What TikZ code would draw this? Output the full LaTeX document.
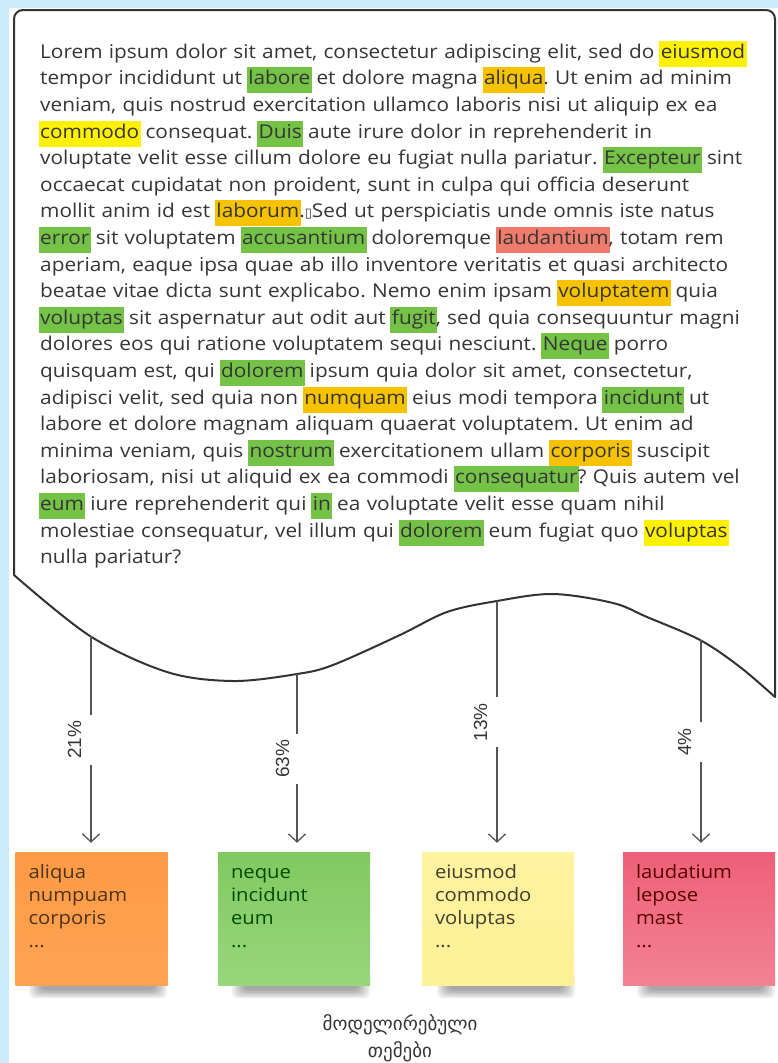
\documentclass[tikz,border=0pt]{standalone}
\usepackage{fontspec}
\setmainfont{Open Sans}[FakeStretch=1.095]
\newfontfamily\pctfont{Liberation Sans}
\newfontfamily\geofont{DejaVu Sans}
\newfontfamily\symfont{DejaVu Sans}
\usetikzlibrary{arrows.meta,calc}
\frenchspacing

\definecolor{bodytext}{HTML}{363636}
\definecolor{hlY}{HTML}{FFF100}
\definecolor{hlO}{HTML}{F7C200}
\definecolor{hlG}{HTML}{74C246}
\definecolor{hlR}{HTML}{F07B6B}
\definecolor{frameblue}{HTML}{CBEBFB}
\definecolor{bubbleline}{HTML}{333333}
\definecolor{connline}{HTML}{555555}

% highlighted word: full-line-height marker behind the word
\newcommand\hlword[2]{\hspace{-1.5pt}{\setlength{\fboxsep}{0pt}\colorbox{#1}{\hspace{1.5pt}\rule[-8.5pt]{0pt}{26pt}#2\hspace{1.5pt}}}\hspace{-1.5pt}}
% sticky-note text block, top aligned
\newcommand\notetext[2]{\parbox[c][133pt][t]{126pt}{\raggedright\color{#1}#2}}

\tikzset{
  bubble/.style={draw=bubbleline, line width=2pt, fill=white, line join=round},
  conn/.style={draw=connline, line width=1.3pt, shorten >=9pt,
    -{Straight Barb[length=8pt,width=17pt]}},
  pct/.style={rotate=90, fill=white, text=bodytext,
    font=\pctfont\fontsize{19}{22}\selectfont,
    inner xsep=6pt, inner ysep=0pt, text height=13.5pt, text depth=16pt, anchor=base},
  notebox/.style={minimum width=152pt, minimum height=133pt, inner sep=0pt,
    font=\fontsize{18.5}{23}\selectfont},
  bodytxt/.style={anchor=north west, inner sep=0pt, text width=740pt, align=left,
    text=bodytext, font=\fontsize{19}{26.6}\selectfont},
}

\begin{document}
\begin{tikzpicture}[x=1pt,y=-1pt]
\useasboundingbox (0,0) rectangle (778,1063);

% light blue frame strips
\fill[frameblue] (0,0) rectangle (9,1063);
\fill[frameblue] (0,0) rectangle (778,8);

% speech bubble with wavy lower edge
\path[bubble] (14,575) -- (14,19) .. controls (14,14) and (18,10) .. (23,10)
  -- (766,10) .. controls (771,10) and (775,14) .. (775,19) -- (775,697)
  -- plot[smooth, tension=0.55] coordinates {(775,697) (740,667) (700,640) (647,617)
     (613,603) (553,594) (497,601) (447,612) (400,635) (333,665) (297,674)
     (233,681) (167,672) (90,636) (14,575)} -- cycle;

% body text
\node[bodytxt] (body) at (40,40.5) {%
Lorem ipsum dolor sit amet, consectetur adipiscing elit, sed do \hlword{hlY}{eiusmod}\\
tempor incididunt ut \hlword{hlG}{labore} et dolore magna \hlword{hlO}{aliqua}. Ut enim ad minim\\
veniam, quis nostrud exercitation ullamco laboris nisi ut aliquip ex ea\\
\hlword{hlY}{commodo} consequat. \hlword{hlG}{Duis} aute irure dolor in reprehenderit in\\
voluptate velit esse cillum dolore eu fugiat nulla pariatur. \hlword{hlG}{Excepteur} sint\\
occaecat cupidatat non proident, sunt in culpa qui officia deserunt\\
mollit anim id est \hlword{hlO}{laborum}.{\symfont\fontsize{13}{13}\selectfont\char"25AF}Sed ut perspiciatis unde omnis iste natus\\
\hlword{hlG}{error} sit voluptatem \hlword{hlG}{accusantium} doloremque \hlword{hlR}{laudantium}, totam rem\\
aperiam, eaque ipsa quae ab illo inventore veritatis et quasi architecto\\
beatae vitae dicta sunt explicabo. Nemo enim ipsam \hlword{hlO}{voluptatem} quia\\
\hlword{hlG}{voluptas} sit aspernatur aut odit aut \hlword{hlG}{fugit}, sed quia consequuntur magni\\
dolores eos qui ratione voluptatem sequi nesciunt. \hlword{hlG}{Neque} porro\\
quisquam est, qui \hlword{hlG}{dolorem} ipsum quia dolor sit amet, consectetur,\\
adipisci velit, sed quia non \hlword{hlO}{numquam} eius modi tempora \hlword{hlG}{incidunt} ut\\
labore et dolore magnam aliquam quaerat voluptatem. Ut enim ad\\
minima veniam, quis \hlword{hlG}{nostrum} exercitationem ullam \hlword{hlO}{corporis} suscipit\\
laboriosam, nisi ut aliquid ex ea commodi \hlword{hlG}{consequatur}? Quis autem vel\\
\hlword{hlG}{eum} iure reprehenderit qui \hlword{hlG}{in} ea voluptate velit esse quam nihil\\
molestiae consequatur, vel illum qui \hlword{hlG}{dolorem} eum fugiat quo \hlword{hlY}{voluptas}\\
nulla pariatur?};

% soft shadows under the sticky notes
\foreach \l in {15,218,423,623}{
  \foreach \k in {0,...,6}{
    \fill[black, opacity=0.06, rounded corners=6pt]
      (\l+26-2*\k, 977-\k) rectangle (\l+140+2*\k, 990+1.4*\k);
  }
}

% sticky notes
\node[notebox, top color={rgb,255:red,255;green,154;blue,70}, bottom color={rgb,255:red,255;green,163;blue,82}]
  (n1) at (91.5,918.5)
  {\notetext{black!60!brown}{\rule{0pt}{26pt}aliqua\\numpuam\\corporis\\...}};
\node[notebox, top color={rgb,255:red,128;green,201;blue,96}, bottom color={rgb,255:red,152;green,214;blue,124}]
  (n2) at (294,918.5)
  {\notetext{black!70!green}{\rule{0pt}{26pt}neque\\incidunt\\eum\\...}};
\node[notebox, top color={rgb,255:red,255;green,243;blue,160}, bottom color={rgb,255:red,253;green,240;blue,150}]
  (n3) at (498,918.5)
  {\notetext{black!70!olive}{\rule{0pt}{26pt}eiusmod\\commodo\\voluptas\\...}};
\node[notebox, top color={rgb,255:red,238;green,96;blue,120}, bottom color={rgb,255:red,242;green,130;blue,146}]
  (n4) at (699,918.5)
  {\notetext{black!65!red}{\rule{0pt}{26pt}laudatium\\lepose\\mast\\...}};

% connectors from the bubble edge to the notes
\coordinate (s1) at (91,636);
\coordinate (s2) at (297,674);
\coordinate (s3) at (497,601);
\coordinate (s4) at (701,640);
\draw[conn] (s1) -- (s1 |- n1.north);
\draw[conn] (s2) -- (s2 |- n2.north);
\draw[conn] (s3) -- (s3 |- n3.north);
\draw[conn] (s4) -- (s4 |- n4.north);

% percentage labels
\node[pct] (p1) at ($(s1)!0.5!(s1 |- n1.north)+(-10,-4)$) {21\%};
\node[pct] (p2) at ($(s2)!0.5!(s2 |- n2.north)+(-8,-4)$) {63\%};
\node[pct] (p3) at ($(s3)!0.5!(s3 |- n3.north)+(-10,-4)$) {13\%};
\node[pct] (p4) at ($(s4)!0.5!(s4 |- n4.north)+(-10,-4)$) {4\%};

% caption
\node[font=\geofont\fontsize{19}{27}\selectfont, align=center, text=bodytext]
  (title) at (400,1038) {მოდელირებული\\თემები};
\end{tikzpicture}
\end{document}
